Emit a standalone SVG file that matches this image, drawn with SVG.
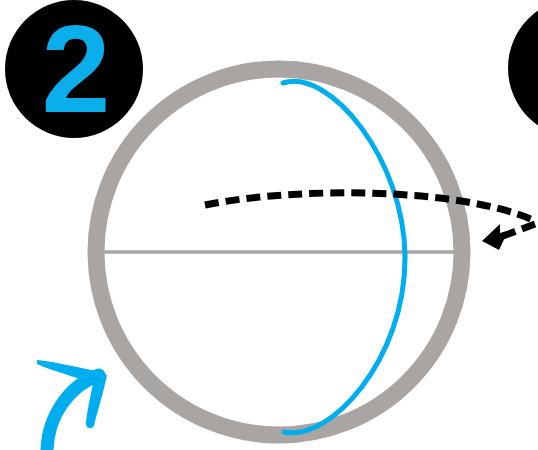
<svg xmlns="http://www.w3.org/2000/svg" width="538" height="450" viewBox="0 0 538 450">
<style>
.gray{fill:none;stroke:#a9a5a3;stroke-linecap:round}
.blue{fill:none;stroke:#00adee;stroke-linecap:round;stroke-linejoin:round}
.dash{fill:none;stroke:#000;stroke-width:7;stroke-dasharray:14 7}
</style>
<rect width="538" height="450" fill="#fff"/>
<g id="badge2">
<circle cx="74" cy="69" r="69" fill="#000"/>
<text x="76" y="112" font-family="Liberation Sans, Arial, sans-serif" font-weight="bold" font-size="124" fill="#0aaeea" text-anchor="middle">2</text>
</g>
<g id="badge3">
<circle cx="578" cy="68" r="70" fill="#000"/>
</g>
<g id="sphere">
<circle cx="279" cy="252" r="183" class="gray" stroke-width="17"/>
<line x1="104" y1="252" x2="454" y2="252" class="gray" stroke-width="3.5"/>
<path class="blue" stroke-width="5" d="M283,83 C330,68 405,160 405,258 C405,360 330,442 284,432"/>
</g>
<g id="connectors">
<path class="dash" d="M205,205 C300,186 460,188 533,220"/>
<path class="dash" d="M535,224 L503,236"/>
<path d="M482,241 L500,224 L500,233 L508,231 L499,250 Z" fill="#000"/>
<path class="blue" stroke-width="13" d="M47,450 C48,415 70,385 99,375"/>
<path d="M37,360 C60,362 85,370 104,372 L100,386 C80,378 55,372 37,364 Z" fill="#00adee"/>
<path d="M95,372 L107,375 C103,395 97,412 94,426 C91,430 85,428 86,422 C88,405 92,390 95,372 Z" fill="#00adee"/>
</g>
</svg>
